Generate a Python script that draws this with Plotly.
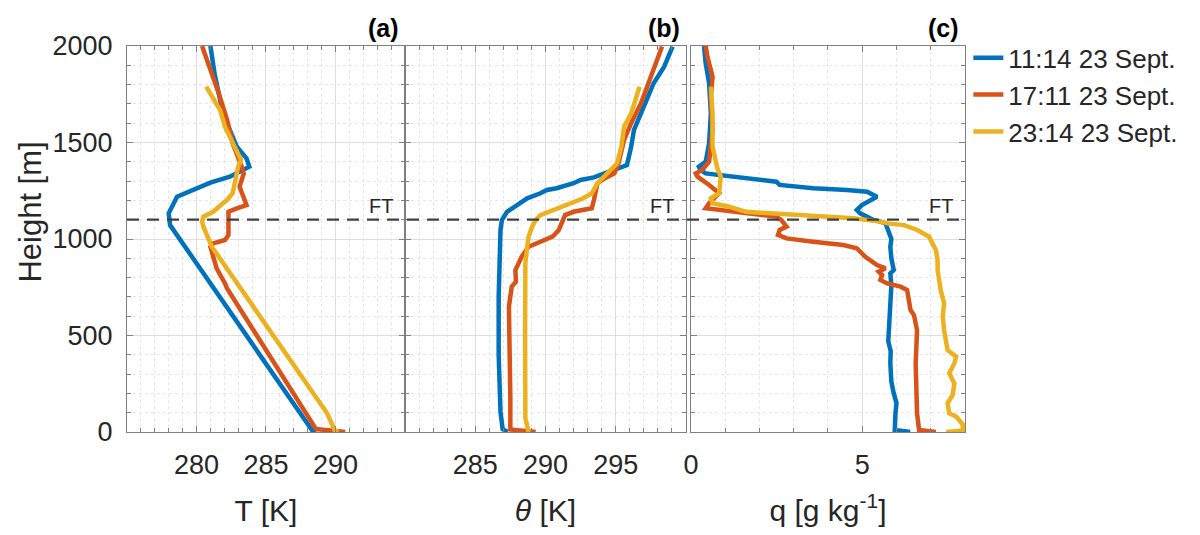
import plotly.graph_objects as go

# ---------------- data ----------------
series_names = ["11:14 23 Sept.", "17:11 23 Sept.", "23:14 23 Sept."]
series_colors = ["#0072BD", "#D95319", "#EDB120"]

# Panel (a): temperature T [K] vs height [m]
T_blue_h = [0, 10, 1072, 1133, 1219, 1245, 1271, 1292, 1323, 1349, 1375, 1418, 1478, 1582, 1686, 1858, 2000]
T_blue = [288.6, 288.3, 278.1, 278.0, 278.6, 279.4, 280.3, 281.0, 282.4, 283.1, 283.8, 283.6, 282.9, 282.3, 281.8, 281.3, 281.0]
T_red_h = [0, 15, 744, 770, 848, 891, 960, 977, 995, 1021, 1141, 1159, 1176, 1271, 1340, 1375, 1496, 1617, 1755, 2000]
T_red = [290.7, 288.6, 282.2, 282.05, 281.45, 281.3, 281.0, 281.2, 282.05, 282.3, 282.3, 282.9, 283.6, 283.1, 283.4, 283.25, 282.6, 282.2, 281.6, 280.4]
T_yel_h = [0, 8, 97, 960, 1064, 1090, 1116, 1141, 1185, 1202, 1237, 1323, 1375, 1410, 1513, 1582, 1668, 1789]
T_yel = [290.2, 289.95, 289.4, 281.1, 280.5, 280.4, 280.5, 281.2, 281.9, 282.2, 282.6, 282.8, 283.0, 283.2, 282.5, 282.05, 281.7, 280.7]

# Panel (b): potential temperature theta [K] vs height [m]
th_blue_h = [0, 15, 104, 400, 700, 1047, 1098, 1141, 1176, 1211, 1237, 1254, 1263, 1289, 1306, 1319, 1340, 1366, 1383, 1478, 1565, 1651, 1807, 1893, 1997]
th_blue = [287.3, 286.95, 286.8, 286.67, 286.67, 286.8, 286.9, 287.26, 287.98, 288.7, 289.64, 290.1, 290.8, 292.0, 292.5, 293.45, 294.2, 295.1, 295.8, 296.1, 296.3, 296.8, 297.7, 298.45, 299.05]
th_red_h = [0, 13, 183, 528, 649, 753, 779, 839, 865, 908, 960, 986, 1012, 1047, 1124, 1141, 1150, 1159, 1202, 1289, 1314, 1340, 1392, 1513, 1600, 1703, 1841, 1997]
th_red = [289.3, 287.5, 287.5, 287.4, 287.4, 287.6, 287.9, 287.86, 288.0, 288.3, 288.8, 289.64, 290.5, 290.95, 291.4, 292.0, 292.6, 293.3, 293.45, 293.7, 294.2, 294.9, 295.2, 295.6, 296.1, 296.8, 297.5, 298.3]
th_yel_h = [0, 71, 500, 874, 960, 1012, 1064, 1098, 1124, 1150, 1176, 1193, 1211, 1237, 1289, 1340, 1392, 1478, 1582, 1651, 1789]
th_yel = [288.8, 288.57, 288.55, 288.57, 288.7, 288.8, 289.05, 289.3, 289.64, 290.6, 291.55, 292.0, 292.7, 293.3, 293.7, 294.4, 295.1, 295.4, 295.6, 296.1, 296.7]

# Panel (c): specific humidity q [g/kg] vs height [m]
q_blue_h = [0, 10, 97, 150, 200, 260, 356, 420, 470, 528, 600, 701, 760, 822, 839, 900, 960, 1000, 1047, 1081, 1090, 1098, 1133, 1150, 1176, 1202, 1219, 1245, 1254, 1263, 1280, 1297, 1314, 1332, 1340, 1358, 1375, 1401, 1496, 1651, 1807, 1910, 2000]
q_blue = [6.4, 5.95, 5.97, 6.0, 5.92, 5.85, 5.82, 5.83, 5.76, 5.78, 5.8, 5.82, 5.85, 5.82, 5.92, 5.85, 5.82, 5.85, 5.77, 5.68, 5.53, 5.33, 4.94, 4.84, 4.99, 5.29, 5.43, 5.14, 4.55, 3.57, 2.59, 2.49, 1.61, 0.63, 0.43, 0.28, 0.23, 0.43, 0.53, 0.58, 0.53, 0.43, 0.38]
q_red_h = [0, 10, 97, 356, 528, 580, 606, 632, 736, 753, 770, 788, 813, 831, 848, 865, 908, 952, 969, 986, 1003, 1021, 1047, 1064, 1098, 1116, 1133, 1150, 1159, 1185, 1237, 1280, 1323, 1340, 1358, 1401, 1565, 1738, 1841, 1945, 2000]
q_red = [7.15, 6.66, 6.6, 6.56, 6.6, 6.56, 6.51, 6.41, 6.31, 6.12, 5.73, 5.53, 5.58, 5.48, 5.68, 5.43, 5.09, 4.84, 4.45, 3.57, 2.79, 2.54, 2.59, 2.79, 2.64, 2.49, 1.61, 0.63, 0.43, 0.53, 0.82, 0.53, 0.19, 0.14, 0.33, 0.53, 0.63, 0.58, 0.63, 0.48, 0.43]
q_yel_h = [0, 8, 40, 80, 97, 149, 192, 252, 304, 356, 390, 425, 528, 597, 667, 736, 839, 891, 943, 960, 1012, 1047, 1055, 1072, 1081, 1090, 1107, 1119, 1128, 1141, 1167, 1185, 1211, 1237, 1323, 1366, 1478, 1651, 1789]
q_yel = [7.45, 7.95, 7.93, 7.74, 7.54, 7.49, 7.64, 7.69, 7.54, 7.69, 7.74, 7.49, 7.39, 7.35, 7.39, 7.29, 7.2, 7.2, 7.15, 7.1, 6.95, 6.61, 6.46, 6.22, 5.73, 5.53, 4.74, 3.57, 2.59, 1.61, 1.12, 0.63, 0.58, 0.82, 0.87, 0.77, 0.63, 0.63, 0.58]

ft_height = 1100
y_ticks = [0, 500, 1000, 1500, 2000]
T_ticks = [280, 285, 290]
th_ticks = [285, 290, 295]
q_ticks = [0, 5]
T_range = [275, 295]
th_range = [280, 300]
q_range = [0, 8]
h_range = [0, 2000]

# ---------------- figure ----------------
FONT = "Liberation Sans, Arial, sans-serif"
TXT = "#262626"
fig = go.Figure()

panels = [
    ("x", "y", [(T_blue, T_blue_h), (T_red, T_red_h), (T_yel, T_yel_h)]),
    ("x2", "y2", [(th_blue, th_blue_h), (th_red, th_red_h), (th_yel, th_yel_h)]),
    ("x3", "y3", [(q_blue, q_blue_h), (q_red, q_red_h), (q_yel, q_yel_h)]),
]
for pi, (xa, ya, data) in enumerate(panels):
    for si, (xv, hv) in enumerate(data):
        fig.add_trace(go.Scatter(
            x=xv, y=hv, xaxis=xa, yaxis=ya, mode="lines",
            line=dict(color=series_colors[si], width=4.5),
            name=series_names[si], legendgroup=series_names[si],
            showlegend=(pi == 0),
        ))

def xaxis_cfg(domain, rng, tickvals, anchor, minor_dtick, title):
    return dict(
        domain=domain, range=rng, tickvals=tickvals, anchor=anchor,
        showline=True, linecolor="#7f7f7f", linewidth=1, mirror="ticks",
        ticks="inside", ticklen=6, tickcolor="#7f7f7f",
        showgrid=True, gridcolor="#dedede", gridwidth=1,
        minor=dict(dtick=minor_dtick, ticks="inside", ticklen=4, tickcolor="#7f7f7f",
                   showgrid=True, gridcolor="#e6e6e6", griddash="dot", gridwidth=1),
        tickfont=dict(size=27, color=TXT, family=FONT),
        ticklabelstandoff=9,
        title=dict(text=title, font=dict(size=30, color=TXT, family=FONT), standoff=20),
        zeroline=False, fixedrange=True,
    )

def yaxis_cfg(anchor, labels):
    return dict(
        range=h_range, tickvals=y_ticks, anchor=anchor, domain=[0, 1],
        showline=True, linecolor="#7f7f7f", linewidth=1, mirror="ticks",
        ticks="inside", ticklen=6, tickcolor="#7f7f7f",
        showgrid=True, gridcolor="#dedede", gridwidth=1,
        minor=dict(dtick=100, ticks="inside", ticklen=4, tickcolor="#7f7f7f",
                   showgrid=True, gridcolor="#e6e6e6", griddash="dot", gridwidth=1),
        tickfont=dict(size=27, color=TXT, family=FONT),
        showticklabels=labels, zeroline=False, fixedrange=True,
        ticklabelstandoff=8,
    )

fig.update_layout(
    width=1200, height=535,
    margin=dict(l=127, r=235, t=46, b=103),
    paper_bgcolor="white", plot_bgcolor="white",
    font=dict(family=FONT, color=TXT),
    xaxis=xaxis_cfg([0, 0.3317], T_range, T_ticks, "y", 1, "T [K]"),
    xaxis2=xaxis_cfg([0.3317, 0.667], th_range, th_ticks, "y2", 1, "<i>θ</i> [K]"),
    xaxis3=xaxis_cfg([0.673, 1.0], q_range, q_ticks, "y3", 1, "q [g kg<sup>-1</sup>]"),
    yaxis=yaxis_cfg("x", True),
    yaxis2=yaxis_cfg("x2", False),
    yaxis3=yaxis_cfg("x3", False),
    showlegend=True,
    legend=dict(
        x=1.004, y=1.03, xanchor="left", yanchor="top",
        font=dict(size=26, color=TXT, family=FONT),
        bgcolor="rgba(0,0,0,0)", borderwidth=0,
        tracegroupgap=0, itemwidth=30,
    ),
)

# y title as annotation
fig.add_annotation(text="Height [m]", xref="paper", yref="paper", x=-0.115, y=0.57,
                   textangle=-90, showarrow=False, font=dict(size=31, color=TXT, family=FONT),
                   xanchor="center", yanchor="middle")

# FT dashed line
fig.add_shape(type="line", xref="paper", yref="y", x0=0, x1=1, y0=ft_height, y1=ft_height,
              line=dict(color="#404040", width=2.2, dash="12px,8px"))

# FT labels and panel labels
for xa, lab in [("x", "(a)"), ("x2", "(b)"), ("x3", "(c)")]:
    fig.add_annotation(text="FT", xref=f"{xa} domain", yref="y", x=0.965, y=ft_height + 70,
                       xanchor="right", yanchor="middle", showarrow=False,
                       font=dict(size=20, color=TXT, family=FONT))
    fig.add_annotation(text=f"<b>{lab}</b>", xref=f"{xa} domain", yref="paper", x=0.985, y=1.0,
                       xanchor="right", yanchor="bottom", showarrow=False, yshift=2,
                       font=dict(size=25, color="black", family=FONT))

fig.write_html("out.html")
